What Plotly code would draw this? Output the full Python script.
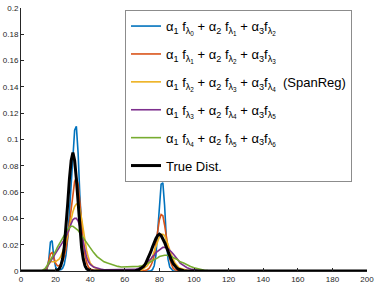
import plotly.graph_objects as go

X = [0,
     12, 13, 14, 15, 16, 17, 18, 19, 20, 21, 22, 23, 24, 25, 26, 27, 28, 29, 30, 31, 32, 33, 34, 35, 36, 37, 38, 39, 40,
     42, 44, 46, 48, 50, 52, 54, 56, 58, 60, 62, 64, 66, 68, 70,
     71, 72, 73, 74, 75, 76, 77, 78, 79, 80, 81, 82, 83, 84, 85, 86, 87, 88, 89, 90, 91, 92,
     94, 96, 98, 100, 102, 104, 106, 108, 110,
     115, 120, 200]

blue = [0,
        0, 0, 0, 0.001, 0.008, 0.022, 0.023, 0.010, 0.003, 0.001, 0.001, 0.001, 0.002, 0.005, 0.012, 0.025, 0.045, 0.068, 0.090, 0.107, 0.110, 0.090, 0.058, 0.028, 0.010, 0.003, 0.001, 0, 0,
        0, 0, 0, 0, 0, 0, 0, 0, 0, 0, 0, 0, 0, 0, 0,
        0, 0, 0, 0, 0, 0.001, 0.004, 0.012, 0.030, 0.052, 0.066, 0.067, 0.050, 0.025, 0.009, 0.003, 0.001, 0, 0, 0, 0, 0,
        0, 0, 0, 0, 0, 0, 0, 0, 0,
        0, 0, 0]

orange = [0,
          0, 0, 0, 0.002, 0.008, 0.013, 0.014, 0.010, 0.006, 0.004, 0.004, 0.005, 0.007, 0.011, 0.017, 0.026, 0.037, 0.049, 0.060, 0.068, 0.071, 0.066, 0.053, 0.037, 0.022, 0.012, 0.006, 0.003, 0.0015,
          0.0005, 0.0002, 0, 0, 0, 0, 0, 0, 0, 0, 0, 0, 0, 0, 0,
          0, 0.0005, 0.001, 0.002, 0.004, 0.007, 0.012, 0.020, 0.030, 0.039, 0.043, 0.042, 0.035, 0.025, 0.016, 0.009, 0.005, 0.002, 0.001, 0.0005, 0, 0,
          0, 0, 0, 0, 0, 0, 0, 0, 0,
          0, 0, 0]

yellow = [0,
          0, 0, 0.001, 0.003, 0.006, 0.007, 0.007, 0.007, 0.007, 0.008, 0.009, 0.011, 0.014, 0.018, 0.022, 0.028, 0.034, 0.040, 0.045, 0.049, 0.051, 0.051, 0.047, 0.040, 0.031, 0.022, 0.015, 0.010, 0.006,
          0.003, 0.0015, 0.001, 0.0005, 0.0003, 0.0002, 0.0002, 0.0002, 0.0002, 0.0002, 0.0003, 0.0004, 0.0005, 0.0007, 0.001,
          0.002, 0.003, 0.004, 0.006, 0.008, 0.011, 0.015, 0.019, 0.023, 0.026, 0.028, 0.028, 0.027, 0.024, 0.020, 0.016, 0.012, 0.009, 0.006, 0.004, 0.003, 0.002,
          0.001, 0.0005, 0.0002, 0, 0, 0, 0, 0, 0,
          0, 0, 0]

purple = [0,
          0, 0, 0.001, 0.003, 0.005, 0.007, 0.009, 0.011, 0.013, 0.015, 0.017, 0.019, 0.021, 0.023, 0.026, 0.029, 0.033, 0.036, 0.039, 0.040, 0.040, 0.038, 0.034, 0.028, 0.021, 0.015, 0.010, 0.007, 0.005,
          0.003, 0.002, 0.0015, 0.001, 0.001, 0.001, 0.001, 0.001, 0.001, 0.001, 0.001, 0.001, 0.0012, 0.002, 0.003,
          0.004, 0.005, 0.006, 0.008, 0.009, 0.011, 0.012, 0.014, 0.015, 0.016, 0.017, 0.018, 0.018, 0.018, 0.017, 0.016, 0.0145, 0.013, 0.0115, 0.010, 0.008, 0.006,
          0.004, 0.0025, 0.0015, 0.001, 0.0006, 0.0003, 0.0001, 0, 0,
          0, 0, 0]

green = [0,
         0, 0.001, 0.002, 0.004, 0.006, 0.008, 0.010, 0.013, 0.015, 0.018, 0.020, 0.023, 0.025, 0.027, 0.030, 0.032, 0.033, 0.034, 0.034, 0.033, 0.032, 0.031, 0.029, 0.027, 0.025, 0.023, 0.021, 0.019, 0.017,
         0.014, 0.011, 0.009, 0.007, 0.006, 0.005, 0.004, 0.0035, 0.003, 0.003, 0.003, 0.003, 0.003, 0.0035, 0.004,
         0.0045, 0.005, 0.0055, 0.006, 0.007, 0.008, 0.0085, 0.009, 0.010, 0.011, 0.0115, 0.012, 0.012, 0.012, 0.012, 0.0115, 0.011, 0.010, 0.0095, 0.009, 0.008, 0.007,
         0.006, 0.0045, 0.0035, 0.0025, 0.0017, 0.001, 0.0006, 0.0003, 0.0001,
         0, 0, 0]

black = [0,
         0, 0, 0, 0, 0, 0, 0, 0, 0.0002, 0.0006, 0.0016, 0.004, 0.009, 0.018, 0.032, 0.051, 0.070, 0.084, 0.090, 0.084, 0.070, 0.051, 0.032, 0.018, 0.009, 0.004, 0.0016, 0.0006, 0.0002,
         0, 0, 0, 0, 0, 0, 0, 0, 0, 0, 0, 0, 0.0002, 0.0008, 0.0023,
         0.0036, 0.0056, 0.0082, 0.0111, 0.0145, 0.0182, 0.0217, 0.0248, 0.027, 0.028, 0.027, 0.0248, 0.0217, 0.0182, 0.0145, 0.0111, 0.0082, 0.0056, 0.0036, 0.0023, 0.0013, 0.0008,
         0.0002, 0, 0, 0, 0, 0, 0, 0, 0,
         0, 0, 0]

names = [
    "α<sub>1</sub> f<sub>λ<sub>0</sub></sub> + α<sub>2</sub> f<sub>λ<sub>1</sub></sub> + α<sub>3</sub>f<sub>λ<sub>2</sub></sub>",
    "α<sub>1</sub> f<sub>λ<sub>1</sub></sub> + α<sub>2</sub> f<sub>λ<sub>2</sub></sub> + α<sub>3</sub>f<sub>λ<sub>3</sub></sub>",
    "α<sub>1</sub> f<sub>λ<sub>2</sub></sub> + α<sub>2</sub> f<sub>λ<sub>3</sub></sub> + α<sub>3</sub>f<sub>λ<sub>4</sub></sub>  (SpanReg)",
    "α<sub>1</sub> f<sub>λ<sub>3</sub></sub> + α<sub>2</sub> f<sub>λ<sub>4</sub></sub> + α<sub>3</sub>f<sub>λ<sub>5</sub></sub>",
    "α<sub>1</sub> f<sub>λ<sub>4</sub></sub> + α<sub>2</sub> f<sub>λ<sub>5</sub></sub> + α<sub>3</sub>f<sub>λ<sub>6</sub></sub>",
    "True Dist.",
]
series = [blue, orange, yellow, purple, green, black]
colors = ["#0072BD", "#D95319", "#EDB120", "#7E2F8E", "#77AC30", "#000000"]
widths = [1.6, 1.6, 1.6, 1.6, 1.6, 3]

x_ticks = [0, 20, 40, 60, 80, 100, 120, 140, 160, 180, 200]
y_ticks = [0, 0.02, 0.04, 0.06, 0.08, 0.1, 0.12, 0.14, 0.16, 0.18, 0.2]
y_ticktext = ["0", "0.02", "0.04", "0.06", "0.08", "0.1", "0.12", "0.14", "0.16", "0.18", "0.2"]

fig = go.Figure()
for i, (ys, nm, c, w) in enumerate(zip(series, names, colors, widths)):
    fig.add_trace(go.Scatter(x=X, y=ys, mode="lines", name=nm, legendgroup="g%d" % i,
                             line=dict(color=c, width=w)))

axis_common = dict(showgrid=False, zeroline=False, showline=True, linecolor="#262626",
                   linewidth=1, ticks="inside", ticklen=3, tickcolor="#262626",
                   tickfont=dict(family="Liberation Sans, Arial", size=8, color="#262626"),
                   mirror=False, automargin=False, ticklabeloverflow="allow")
fig.update_xaxes(range=[0, 200], tickvals=x_ticks, **axis_common)
fig.update_yaxes(range=[0, 0.2], tickvals=y_ticks, ticktext=y_ticktext, **axis_common)

fig.update_layout(
    width=374, height=285,
    margin=dict(l=21, r=7, t=8, b=14, autoexpand=False),
    paper_bgcolor="white", plot_bgcolor="white",
    font=dict(family="Liberation Sans, Arial", color="#000000"),
    legend=dict(x=0.3006, y=0.992, xanchor="left", yanchor="top",
                bgcolor="white", bordercolor="#8c8c8c", borderwidth=1,
                tracegroupgap=8, itemwidth=30,
                font=dict(size=13, family="Liberation Sans, Arial", color="#000000")),
    showlegend=True,
)

fig.write_html("out.html", config={"displayModeBar": False},
               post_script="document.body.style.margin='0';document.body.style.padding='0';")
